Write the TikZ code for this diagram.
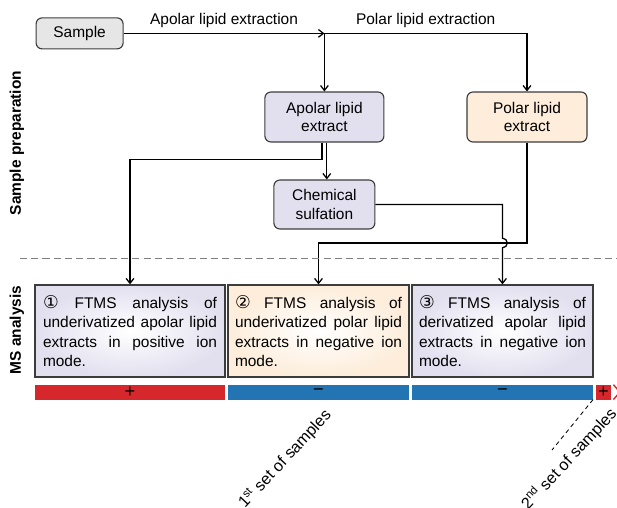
\documentclass[tikz,border=0pt]{standalone}
\usepackage{fontspec}
\setmainfont{Liberation Sans}
\newfontfamily\circfont{DejaVu Sans}
\usetikzlibrary{arrows.meta, positioning}
\definecolor{boxline}{RGB}{60,60,60}
\definecolor{apolarfill}{RGB}{226,224,239}
\definecolor{polarfill}{RGB}{253,237,218}
\definecolor{samplefill}{RGB}{230,230,230}
\definecolor{posred}{RGB}{214,40,44}
\definecolor{negblue}{RGB}{34,116,178}

\begin{document}
\begin{tikzpicture}[
    font=\fontsize{11}{13}\selectfont,
    flow/.style={draw=boxline, line width=0.8pt, rounded corners=0.15cm, align=center, inner sep=2pt},
    msbox/.style={draw=boxline, line width=0.9pt, shade, inner color=white, align=justify,
                  minimum height=2.3cm, font=\fontsize{11}{13.8}\selectfont},
    polbar/.style={minimum height=0.375cm, inner sep=0pt, outer sep=0pt, text=black,
                   font=\fontsize{13}{13}\selectfont},
    link/.style={line width=0.9pt, -{Straight Barb[length=3.5pt,width=5.5pt]}},
    side/.style={rotate=90, font=\bfseries\fontsize{11}{13}\selectfont},
  ]
  \clip (0,0) rectangle (15.425,12.675);

  % 样品制备
  \node[flow, fill=samplefill, minimum width=2.175cm, minimum height=0.775cm] (sample) at (1.99,11.84) {Sample};
  \node[flow, fill=apolarfill, minimum width=2.975cm, minimum height=1.25cm] (apolar) at (8.11,9.75) {Apolar lipid\\extract};
  \node[flow, fill=polarfill, minimum width=3cm, minimum height=1.25cm] (polar) at (13.175,9.75) {Polar lipid\\extract};
  \node[flow, fill=apolarfill, minimum width=2.525cm, minimum height=1.225cm] (sulf) at (8.11,7.5625) {Chemical\\sulfation};

  % 质谱分析
  \node[msbox, outer color=apolarfill, minimum width=4.75cm, text width=4.35cm] (ms1) at (3.25,4.4)
    {{\circfont\fontsize{12.5}{13}\selectfont ①} FTMS analysis of\linebreak underivatized apolar lipid\linebreak extracts in positive ion\linebreak mode.};
  \node[msbox, outer color=polarfill, minimum width=4.525cm, text width=4.175cm] (ms2) at (7.9625,4.4)
    {{\circfont\fontsize{12.5}{13}\selectfont ②} FTMS analysis of\linebreak underivatized polar lipid\linebreak extracts in negative ion\linebreak mode.};
  \node[msbox, outer color=apolarfill, minimum width=4.525cm, text width=4.175cm] (ms3) at (12.5625,4.4)
    {{\circfont\fontsize{12.5}{13}\selectfont ③} FTMS analysis of\linebreak derivatized apolar lipid\linebreak extracts in negative ion\linebreak mode.};

  % 极性条
  \node[polbar, fill=posred, minimum width=4.75cm, below=0.175cm of ms1] (bar1) {+};
  \node[polbar, fill=negblue, minimum width=4.525cm, below=0.175cm of ms2] (bar2) {−};
  \node[polbar, fill=negblue, minimum width=4.525cm, below=0.175cm of ms3] (bar3) {−};
  \node[polbar, fill=posred, minimum width=0.375cm, right=0.075cm of bar3] (bar4) {+};
  \draw[posred, line width=1pt] ([xshift=0.06cm]bar4.north east) -- ++(0.16,-0.1875) -- ++(-0.16,-0.1875);

  % 连线
  \coordinate (split) at (8.11,11.84);
  \coordinate (cross) at (0,6.6);
  \draw[link] (sample) -- node[above] {Apolar lipid extraction} (split);
  \draw[link] (split) -| node[pos=0.25, above] {Polar lipid extraction} (polar);
  \draw[link] (split) -- (apolar);
  \draw[link] ([xshift=-0.06cm]apolar.south) -- ++(0,-0.425) -| (ms1);
  \draw[link] ([xshift=0.06cm]apolar.south) -- ([xshift=0.06cm]sulf.north);
  \draw[link] (polar) -- (polar.south |- cross) -| (ms2);
  \draw[link] (sulf) -| ([yshift=0.12cm]ms3.north |- cross) arc[start angle=90, end angle=-90, radius=0.12cm] -- (ms3);

  % 分隔线与标注
  \draw[gray, line width=0.6pt, dash pattern=on 5pt off 3pt] (0.5,6.225) -- (15.425,6.225);
  \node[side] (prep) at (0.425,9.1) {Sample preparation};
  \node[side] (msana) at (0.425,4.425) {MS analysis};

  \coordinate (setend) at (13.8,1.425);
  \draw[line width=0.6pt, dash pattern=on 3pt off 2.5pt] (bar3.south east) -- (setend);
  \node[rotate=47, font=\fontsize{11.5}{13}\selectfont] (set1) at (7.12,1.2) {1\textsuperscript{st} set of samples};
  \node[rotate=47, font=\fontsize{11.5}{13}\selectfont] (set2) at (14.22,1.2) {2\textsuperscript{nd} set of samples};
\end{tikzpicture}
\end{document}
